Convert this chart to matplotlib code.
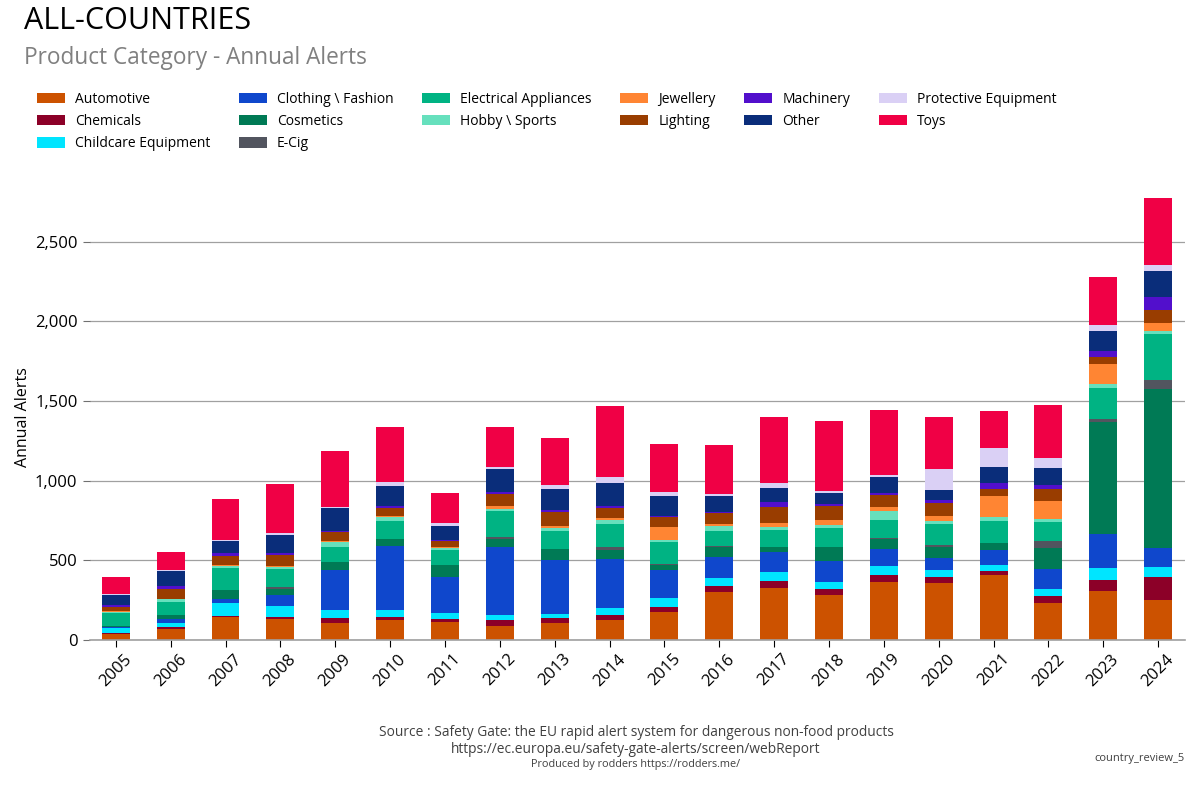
import matplotlib
matplotlib.use("Agg")
import matplotlib.pyplot as plt
import numpy as np

plt.rcParams['font.family'] = ['Open Sans', 'DejaVu Sans']

years = [str(y) for y in range(2005, 2025)]

categories = ["Automotive", "Chemicals", "Childcare Equipment", "Clothing \\ Fashion",
              "Cosmetics", "E-Cig", "Electrical Appliances", "Hobby \\ Sports",
              "Jewellery", "Lighting", "Machinery", "Other", "Protective Equipment", "Toys"]

colors = ["#CC5200", "#8C0028", "#00E5FF", "#0F47CC", "#007A55", "#52555F", "#00B383",
          "#66E0BD", "#FF8533", "#993D00", "#520FCC", "#0A2D7A", "#DAD0F5", "#F00045"]

automotive = [38, 69, 144, 132, 107, 126, 113, 88, 107, 126, 176, 301, 327, 283, 364, 358, 408, 232, 308, 251]
chemicals = [5, 13, 6, 13, 31, 19, 19, 38, 31, 31, 31, 38, 44, 38, 44, 38, 25, 44, 69, 144]
childcare = [31, 25, 82, 69, 50, 44, 38, 31, 25, 44, 57, 50, 57, 44, 57, 44, 38, 44, 75, 63]
clothing = [10, 25, 25, 69, 253, 404, 226, 427, 337, 308, 176, 132, 126, 132, 107, 75, 94, 126, 214, 119]
cosmetics = [5, 25, 57, 38, 48, 42, 75, 50, 71, 57, 31, 63, 31, 88, 63, 69, 44, 132, 703, 999]
ecig = [0, 0, 0, 13, 0, 0, 0, 13, 0, 19, 6, 6, 0, 0, 8, 13, 0, 44, 19, 57]
electrical = [80, 82, 138, 113, 94, 113, 94, 163, 113, 144, 138, 94, 107, 119, 111, 132, 138, 119, 195, 289]
hobby = [6, 19, 13, 10, 31, 25, 13, 13, 19, 25, 13, 31, 19, 19, 57, 19, 25, 19, 25, 19]
jewellery = [4, 2, 6, 8, 6, 6, 6, 19, 13, 13, 82, 13, 25, 31, 25, 31, 132, 113, 126, 50]
lighting = [31, 61, 57, 69, 57, 50, 38, 75, 88, 63, 63, 69, 100, 88, 75, 82, 44, 75, 44, 82]
machinery = [8, 19, 19, 13, 6, 13, 8, 13, 13, 13, 6, 6, 31, 13, 13, 19, 38, 25, 38, 82]
other = [67, 94, 75, 113, 144, 126, 86, 144, 132, 144, 126, 100, 88, 69, 100, 63, 100, 107, 126, 163]
protective = [2, 6, 6, 13, 6, 25, 19, 13, 25, 38, 25, 13, 31, 13, 13, 132, 119, 63, 38, 38]
toys = [107, 113, 257, 308, 352, 345, 188, 251, 295, 446, 301, 308, 414, 440, 408, 327, 232, 333, 301, 421]

series = [automotive, chemicals, childcare, clothing, cosmetics, ecig, electrical, hobby,
          jewellery, lighting, machinery, other, protective, toys]

fig = plt.figure(figsize=(12, 8), dpi=100)
ax = fig.add_axes([0.075, 0.2, 0.9125, 0.5575])

x = np.arange(len(years))
bottom = np.zeros(len(years))
handles = []
for name, vals, col in zip(categories, series, colors):
    v = np.array(vals, dtype=float)
    b = ax.bar(x, v, 0.51, bottom=bottom, color=col, label=name, linewidth=0)
    handles.append(b)
    bottom += v

ax.set_xlim(-0.47, len(years) - 1 + 0.49)
ax.set_ylim(0, 2800)
ax.set_yticks([0, 500, 1000, 1500, 2000, 2500])
ax.set_yticklabels(["0", "500", "1,000", "1,500", "2,000", "2,500"], fontsize=12)
ax.set_xticks(x)
ax.set_xticklabels(years, rotation=45, fontsize=12, ha='center', rotation_mode='default')
ax.yaxis.grid(True, color='#A0A0A0', linewidth=0.9)
ax.set_axisbelow(True)
for s in ['top', 'right', 'left']:
    ax.spines[s].set_visible(False)
ax.spines['bottom'].set_color('#A0A0A0')
ax.spines['bottom'].set_linewidth(1.2)
ax.tick_params(axis='y', length=5, color='#707070', pad=4)
ax.tick_params(axis='x', length=5, color='black', pad=3)
ax.set_ylabel("Annual Alerts", fontsize=11.5, labelpad=2.5)

fig.text(0.02, 0.993, "ALL-COUNTRIES", fontsize=22, va='top', ha='left', color='black')
fig.text(0.02, 0.942, "Product Category - Annual Alerts", fontsize=16.3, va='top', ha='left', color='#808080')

leg = fig.legend(handles=handles, labels=categories, ncol=6, loc='upper left',
                 bbox_to_anchor=(0.026, 0.892), frameon=False, fontsize=10,
                 handlelength=2.0, handleheight=0.75, handletextpad=0.75,
                 columnspacing=2.05, labelspacing=0.52, borderaxespad=0)

cond = ['Liberation Sans Narrow', 'Open Sans', 'DejaVu Sans']
fig.text(0.53, 0.084, "Source : Safety Gate: the EU rapid alert system for dangerous non-food products",
         fontsize=9.9, ha='center', va='center', color='#404040', family=cond)
fig.text(0.53, 0.063, "https://ec.europa.eu/safety-gate-alerts/screen/webReport",
         fontsize=9.9, ha='center', va='center', color='#404040', family=cond)
fig.text(0.53, 0.044, "Produced by rodders https://rodders.me/",
         fontsize=7.8, ha='center', va='center', color='#404040', family=cond)
fig.text(0.987, 0.052, "country_review_5", fontsize=8, ha='right', va='center',
         color='#404040', family=cond)

fig.savefig("out.png", dpi=100)
